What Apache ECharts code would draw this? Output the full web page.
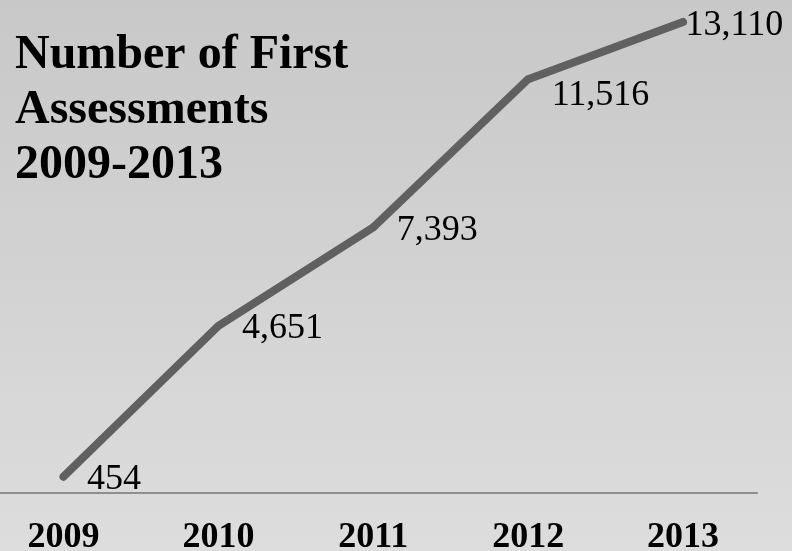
<!DOCTYPE html>
<html>
<head>
<meta charset="utf-8">
<script src="https://cdn.jsdelivr.net/npm/echarts@6/dist/echarts.min.js"></script>
<style>
  html, body { margin: 0; padding: 0; }
  #chart { width: 792px; height: 551px; }
</style>
</head>
<body>
<div id="chart"></div>
<script>
// Number of first assessments per year
const years = ['2009', '2010', '2011', '2012', '2013'];
const assessments = [454, 4651, 7393, 11516, 13110];

// Per-point nudges for the value labels [dx, dy]
const labelOffsets = [[0, 3], [0, 3], [0, 3], [0, 16], [-21, 4]];

const serif = '"Liberation Serif", "Times New Roman", serif';
const fmt = v => v.toLocaleString('en-US');

const chart = echarts.init(document.getElementById('chart'));
chart.setOption({
  animation: false,
  backgroundColor: {
    type: 'linear', x: 0, y: 0, x2: 0, y2: 1,
    colorStops: [
      { offset: 0, color: '#c8c8c8' },
      { offset: 1, color: '#dddddd' }
    ]
  },
  title: {
    text: 'Number of First\nAssessments\n2009-2013',
    left: 15,
    top: 28,
    padding: 0,
    textStyle: {
      fontFamily: serif,
      fontSize: 48,
      fontWeight: 'bold',
      lineHeight: 55,
      color: '#000'
    }
  },
  grid: [
    // plotting area: first and last year sit on the edges
    { left: 63.5, right: 109, top: 0, bottom: 58, outerBoundsMode: 'none' },
    // wider band that only carries the baseline rule
    { left: 0, right: 35, top: 0, bottom: 58, outerBoundsMode: 'none' }
  ],
  xAxis: [{
    type: 'category',
    gridIndex: 0,
    data: years,
    boundaryGap: false,
    axisLine: { show: false },
    axisTick: { show: false },
    axisLabel: {
      margin: 27,
      fontFamily: serif,
      fontSize: 36,
      fontWeight: 'bold',
      color: '#000'
    }
  }, {
    type: 'value',
    gridIndex: 1,
    min: 0,
    max: 1,
    axisLine: { show: true, lineStyle: { color: '#8e8e8e', width: 2 } },
    axisTick: { show: false },
    axisLabel: { show: false },
    splitLine: { show: false }
  }],
  yAxis: [{
    type: 'value',
    gridIndex: 0,
    min: 0,
    max: 13720,
    show: false,
    splitLine: { show: false }
  }, {
    type: 'value',
    gridIndex: 1,
    show: false,
    splitLine: { show: false }
  }],
  series: [{
    type: 'line',
    xAxisIndex: 0,
    yAxisIndex: 0,
    data: assessments.map((v, i) => ({
      value: v,
      label: { offset: labelOffsets[i] }
    })),
    symbol: 'circle',
    symbolSize: 7,
    itemStyle: { color: '#606060' },
    lineStyle: { color: '#606060', width: 8, cap: 'round', join: 'round' },
    label: {
      show: true,
      position: 'right',
      distance: 20,
      formatter: p => fmt(p.value),
      fontFamily: serif,
      fontSize: 36,
      color: '#000'
    },
    clip: false,
    z: 3
  }]
});
</script>
</body>
</html>
